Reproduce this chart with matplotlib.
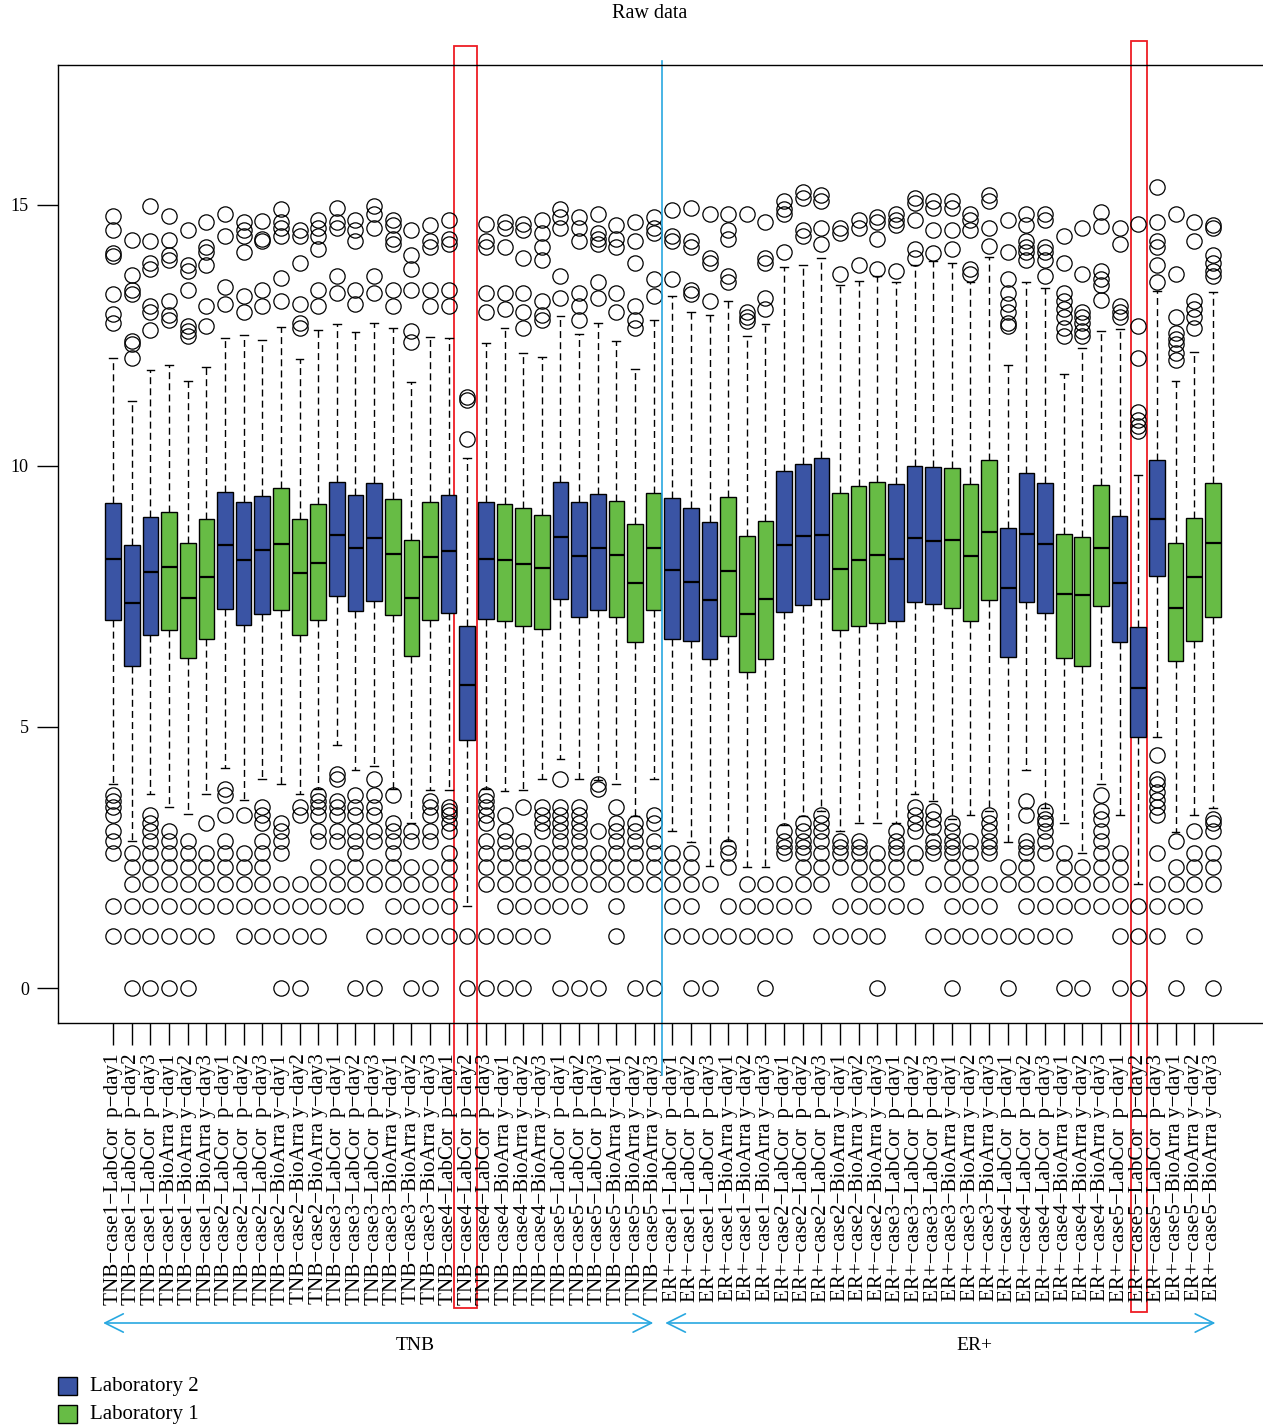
import matplotlib
matplotlib.use("Agg")
import matplotlib.pyplot as plt
from matplotlib.patches import Rectangle
from matplotlib.transforms import blended_transform_factory

plt.rcParams['font.family'] = ['Liberation Serif', 'DejaVu Serif']

# sample layout
groups = ["TNB", "ER+"]
cases = ["case1", "case2", "case3", "case4", "case5"]
samples = ["LabCor  p-day1", "LabCor  p-day2", "LabCor  p-day3",
           "BioArra y-day1", "BioArra y-day2", "BioArra y-day3"]
lab2_color = "#3a54a4"   # LabCor  -> Laboratory 2
lab1_color = "#67bc45"   # BioArra -> Laboratory 1

# box statistics (60 boxes, left to right)
med = [8.22, 7.38, 7.96, 8.07, 7.47, 7.87, 8.48, 8.19, 8.39, 8.51,
       7.94, 8.15, 8.67, 8.42, 8.62, 8.31, 7.47, 8.25, 8.38, 5.81,
       8.21, 8.19, 8.12, 8.05, 8.64, 8.28, 8.42, 8.29, 7.75, 8.42,
       8.00, 7.77, 7.44, 7.98, 7.17, 7.46, 8.48, 8.66, 8.67, 8.02,
       8.19, 8.30, 8.21, 8.62, 8.56, 8.59, 8.28, 8.73, 7.67, 8.70,
       8.50, 7.55, 7.52, 8.42, 7.76, 5.74, 8.98, 7.28, 7.88, 8.53]
q3 = [9.29, 8.48, 9.03, 9.12, 8.53, 8.99, 9.50, 9.31, 9.43, 9.57,
      8.98, 9.28, 9.70, 9.44, 9.68, 9.36, 8.58, 9.31, 9.45, 6.93,
      9.30, 9.28, 9.19, 9.06, 9.70, 9.31, 9.47, 9.32, 8.88, 9.49,
      9.39, 9.20, 8.93, 9.41, 8.65, 8.94, 9.90, 10.03, 10.15, 9.49,
      9.61, 9.69, 9.65, 10.00, 9.98, 9.97, 9.65, 10.12, 8.82, 9.87,
      9.67, 8.69, 8.63, 9.64, 9.04, 6.91, 10.12, 8.52, 9.00, 9.68]
q1 = [7.05, 6.17, 6.76, 6.86, 6.33, 6.68, 7.26, 6.95, 7.16, 7.25,
      6.77, 7.05, 7.50, 7.22, 7.42, 7.14, 6.36, 7.05, 7.18, 4.75,
      7.07, 7.03, 6.93, 6.87, 7.45, 7.10, 7.25, 7.11, 6.62, 7.25,
      6.69, 6.64, 6.30, 6.75, 6.05, 6.30, 7.21, 7.33, 7.46, 6.86,
      6.93, 6.99, 7.03, 7.40, 7.35, 7.27, 7.03, 7.43, 6.34, 7.40,
      7.19, 6.33, 6.17, 7.32, 6.62, 4.81, 7.89, 6.27, 6.65, 7.11]
whishi = [12.07, 11.24, 11.84, 11.93, 11.63, 11.89, 12.46, 12.51, 12.42, 12.66,
          12.04, 12.61, 12.71, 12.56, 12.73, 12.64, 11.60, 12.47, 12.45, 10.15,
          12.35, 12.64, 12.17, 12.09, 12.88, 12.52, 12.74, 12.40, 11.85, 12.79,
          13.26, 12.95, 12.89, 13.16, 12.49, 12.72, 13.81, 13.84, 13.99, 13.46,
          13.54, 13.63, 13.52, 13.84, 13.93, 13.89, 13.52, 14.01, 11.93, 13.52,
          13.40, 11.76, 12.25, 12.58, 12.62, 9.82, 13.35, 11.63, 12.19, 13.33]
whislo = [3.90, 2.81, 3.71, 3.46, 3.33, 3.71, 4.21, 3.60, 4.00, 3.90,
          3.71, 3.81, 4.65, 4.18, 4.25, 3.81, 3.17, 3.79, 3.79, 1.58,
          3.81, 3.78, 3.79, 4.00, 4.39, 4.00, 3.99, 3.90, 3.30, 4.00,
          3.00, 2.80, 2.33, 2.82, 2.32, 2.32, 3.13, 3.30, 3.40, 3.00,
          3.17, 3.17, 3.17, 3.71, 3.58, 3.24, 3.32, 3.40, 2.80, 4.18,
          3.45, 3.17, 2.59, 3.90, 3.32, 2.00, 4.80, 2.98, 3.32, 3.45]

# outliers above the upper whisker
out_hi = [
    [14.79, 14.51, 14.07, 14.03, 13.29, 12.92, 12.74],
    [14.32, 13.65, 13.37, 13.29, 12.40, 12.33, 12.07],
    [14.98, 14.30, 13.89, 13.78, 13.06, 12.95, 12.61],
    [14.79, 14.32, 14.04, 13.94, 13.16, 12.90, 12.80],
    [14.51, 13.84, 13.73, 13.37, 12.69, 12.59, 12.49],
    [14.67, 14.20, 14.09, 13.84, 13.06, 12.69],
    [14.82, 14.41, 13.42, 13.11],
    [14.67, 14.51, 14.41, 14.09, 13.26, 12.95],
    [14.70, 14.35, 14.30, 13.37, 13.06],
    [14.93, 14.67, 14.56, 14.41, 13.60, 13.16],
    [14.51, 14.41, 13.89, 13.11, 12.74, 12.64],
    [14.72, 14.56, 14.41, 14.15, 13.37, 13.06],
    [14.95, 14.67, 14.56, 13.63, 13.32],
    [14.72, 14.51, 14.30, 13.37, 13.11],
    [14.98, 14.82, 14.56, 13.63, 13.32],
    [14.72, 14.61, 14.35, 14.25, 13.37, 13.06],
    [14.51, 14.04, 13.78, 13.37, 12.59, 12.38],
    [14.61, 14.30, 14.20, 13.37, 13.06],
    [14.72, 14.35, 14.25, 13.37, 13.06],
    [11.32, 11.26, 10.51],
    [14.63, 14.30, 14.20, 13.32, 12.95],
    [14.67, 14.56, 14.20, 13.32, 13.00],
    [14.63, 14.51, 13.99, 13.32, 12.95, 12.64],
    [14.72, 14.46, 14.20, 13.94, 13.16, 12.90, 12.80],
    [14.93, 14.77, 14.56, 13.63, 13.21],
    [14.77, 14.56, 14.30, 13.32, 13.06, 12.80],
    [14.82, 14.46, 14.35, 14.25, 13.52, 13.21],
    [14.61, 14.35, 14.20, 13.32, 12.95],
    [14.67, 14.30, 13.89, 13.06, 12.80, 12.64],
    [14.77, 14.56, 14.46, 13.58, 13.26],
    [14.90, 14.41, 14.30, 13.58],
    [14.95, 14.30, 14.20, 13.37, 13.29],
    [14.82, 13.99, 13.89, 13.16],
    [14.82, 14.51, 14.35, 13.63, 13.52],
    [14.82, 12.95, 12.85, 12.77],
    [14.67, 13.99, 13.89, 13.21, 13.00],
    [15.08, 14.93, 14.82, 14.09],
    [15.24, 15.13, 14.51, 14.41],
    [15.19, 15.08, 14.56, 14.25],
    [14.56, 14.46, 13.68],
    [14.72, 14.56, 13.84],
    [14.77, 14.67, 14.35, 13.78],
    [14.82, 14.72, 14.61, 13.73],
    [15.13, 15.03, 14.72, 14.15, 13.99],
    [15.08, 14.95, 14.51, 14.07],
    [15.08, 14.95, 14.51, 14.15],
    [14.82, 14.72, 14.51, 13.78, 13.68],
    [15.19, 15.08, 14.56, 14.22],
    [14.72, 14.09, 13.58, 13.32, 13.11, 12.95, 12.74, 12.69],
    [14.82, 14.61, 14.30, 14.20, 14.09, 13.94],
    [14.82, 14.72, 14.20, 14.09, 13.94, 13.63],
    [14.41, 13.89, 13.32, 13.16, 13.00, 12.85, 12.64, 12.49],
    [14.56, 13.68, 12.95, 12.85, 12.74, 12.59, 12.49],
    [14.87, 14.59, 13.73, 13.58, 13.47, 13.18],
    [14.56, 14.25, 13.06, 12.95, 12.85],
    [14.63, 12.69, 12.07, 11.03, 10.88, 10.77, 10.67],
    [15.34, 14.67, 14.30, 14.20, 13.84, 13.52],
    [14.82, 13.68, 12.85, 12.54, 12.43, 12.33, 12.17, 12.02],
    [14.67, 14.30, 13.16, 13.00, 12.85, 12.64],
    [14.61, 14.56, 14.04, 13.89, 13.73, 13.63],
]

# outliers below the lower whisker (they sit on log2 of small counts)
out_lo = [
    [3.70, 3.58, 3.46, 3.32, 3.00, 2.81, 2.58, 1.58, 1.00],
    [2.58, 2.32, 2.00, 1.58, 1.00, 0.00],
    [3.32, 3.17, 3.00, 2.81, 2.58, 2.32, 2.00, 1.58, 1.00, 0.00],
    [3.00, 2.81, 2.58, 2.32, 2.00, 1.58, 1.00, 0.00],
    [2.81, 2.58, 2.32, 2.00, 1.58, 1.00, 0.00],
    [3.17, 2.58, 2.32, 2.00, 1.58, 1.00],
    [3.81, 3.70, 3.32, 2.81, 2.58, 2.32, 2.00, 1.58],
    [3.32, 2.58, 2.32, 2.00, 1.58, 1.00],
    [3.46, 3.32, 3.17, 2.81, 2.58, 2.32, 2.00, 1.58, 1.00],
    [3.17, 3.00, 2.81, 2.58, 2.00, 1.58, 1.00, 0.00],
    [3.46, 3.32, 2.00, 1.58, 1.00, 0.00],
    [3.70, 3.58, 3.46, 3.32, 3.00, 2.81, 2.32, 2.00, 1.58, 1.00],
    [4.09, 4.00, 3.58, 3.46, 3.32, 3.00, 2.81, 2.32, 2.00, 1.58],
    [3.70, 3.46, 3.32, 3.00, 2.81, 2.58, 2.32, 2.00, 1.58, 0.00],
    [4.00, 3.70, 3.46, 3.32, 3.00, 2.81, 2.32, 2.00, 1.00, 0.00],
    [3.70, 3.17, 3.00, 2.81, 2.58, 2.32, 2.00, 1.58, 1.00],
    [3.00, 2.81, 2.32, 2.00, 1.58, 1.00, 0.00],
    [3.58, 3.46, 3.32, 3.00, 2.81, 2.32, 2.00, 1.58, 1.00, 0.00],
    [3.46, 3.40, 3.32, 3.17, 3.00, 2.58, 2.32, 2.00, 1.58, 1.00],
    [1.00, 0.00],
    [3.70, 3.58, 3.46, 3.32, 3.17, 2.81, 2.58, 2.32, 2.00, 1.00, 0.00],
    [3.32, 3.00, 2.81, 2.58, 2.32, 2.00, 1.58, 1.00, 0.00],
    [3.46, 2.81, 2.58, 2.32, 2.00, 1.58, 1.00, 0.00],
    [3.46, 3.32, 3.17, 3.00, 2.58, 2.32, 2.00, 1.58, 1.00],
    [4.00, 3.46, 3.32, 3.17, 3.00, 2.81, 2.58, 2.32, 2.00, 1.58, 0.00],
    [3.46, 3.32, 3.17, 3.00, 2.81, 2.58, 2.32, 2.00, 1.58, 0.00],
    [3.91, 3.81, 3.00, 2.58, 2.32, 2.00, 0.00],
    [3.46, 3.17, 3.00, 2.81, 2.58, 2.32, 2.00, 1.58, 1.00],
    [3.17, 3.00, 2.81, 2.58, 2.32, 2.00, 0.00],
    [3.32, 3.17, 2.81, 2.58, 2.32, 2.00, 0.00],
    [2.58, 2.32, 2.00, 1.58, 1.00],
    [2.58, 2.32, 2.00, 1.58, 1.00, 0.00],
    [2.00, 1.00, 0.00],
    [2.70, 2.58, 2.32, 1.58, 1.00],
    [2.00, 1.58, 1.00],
    [2.00, 1.58, 1.00, 0.00],
    [3.00, 2.81, 2.70, 2.58, 2.00, 1.58, 1.00],
    [3.17, 3.00, 2.81, 2.70, 2.58, 2.32, 2.00, 1.58],
    [3.32, 3.17, 3.00, 2.81, 2.58, 2.32, 2.00, 1.00],
    [2.81, 2.70, 2.58, 2.32, 1.58, 1.00],
    [2.81, 2.70, 2.58, 2.32, 2.00, 1.58, 1.00],
    [2.58, 2.32, 2.00, 1.58, 1.00, 0.00],
    [3.00, 2.81, 2.70, 2.58, 2.32, 2.00, 1.58],
    [3.46, 3.32, 3.17, 3.00, 2.58, 2.32, 1.58],
    [3.40, 3.24, 3.09, 2.81, 2.70, 2.58, 2.00, 1.00],
    [3.17, 3.00, 2.81, 2.70, 2.58, 2.32, 2.00, 1.58, 1.00, 0.00],
    [2.81, 2.58, 2.32, 2.00, 1.58, 1.00],
    [3.32, 3.17, 3.00, 2.81, 2.70, 2.58, 2.00, 1.58, 1.00],
    [2.32, 2.00, 1.00, 0.00],
    [3.58, 3.32, 2.81, 2.70, 2.58, 2.32, 2.00, 1.58, 1.00],
    [3.40, 3.24, 3.17, 3.00, 2.81, 2.58, 2.00, 1.58, 1.00],
    [2.58, 2.32, 2.00, 1.58, 1.00, 0.00],
    [2.32, 2.00, 1.58, 0.00],
    [3.70, 3.40, 3.24, 3.00, 2.81, 2.58, 2.32, 2.00, 1.58],
    [2.58, 2.32, 2.00, 1.58, 1.00, 0.00],
    [1.58, 1.00, 0.00],
    [4.46, 4.00, 3.91, 3.76, 3.60, 3.46, 3.32, 2.58, 2.00, 1.58, 1.00],
    [2.81, 2.32, 2.00, 1.58, 0.00],
    [3.00, 2.58, 2.32, 2.00, 1.58, 1.00],
    [3.24, 3.17, 3.00, 2.58, 2.32, 2.00, 0.00],
]

labels = []
colors = []
for g in groups:
    for c in cases:
        for s in samples:
            labels.append((g + "-" + c + "-" + s).replace("-", "\u2212"))
            colors.append(lab2_color if s.startswith("LabCor") else lab1_color)

W, H = 1263, 1425
fig = plt.figure(figsize=(W / 100, H / 100), dpi=100)
ax = fig.add_axes([58 / W, 1 - 1023 / H, 1.002 - 58 / W, (1023 - 65) / H])

stats = []
for i in range(len(med)):
    stats.append(dict(med=med[i], q1=q1[i], q3=q3[i], whislo=whislo[i],
                      whishi=whishi[i], fliers=out_hi[i] + out_lo[i]))

pos = list(range(1, len(stats) + 1))
bp = ax.bxp(stats, positions=pos, widths=0.84, capwidths=0.42, patch_artist=True,
            boxprops=dict(edgecolor="black", linewidth=1.0),
            medianprops=dict(color="black", linewidth=1.6),
            whiskerprops=dict(color="black", linewidth=1.0, linestyle=(0, (5, 3))),
            capprops=dict(color="black", linewidth=1.0),
            flierprops=dict(marker="o", markerfacecolor="none", markeredgecolor="black",
                            markersize=11, markeredgewidth=0.9, linestyle="none"))
for patch, col in zip(bp["boxes"], colors):
    patch.set_facecolor(col)

ax.set_xlim(-1.96, 62.83)
ax.set_ylim(-0.67, 17.68)
ax.set_yticks([0, 5, 10, 15])
ax.set_xticks(pos)
ax.set_xticklabels(labels, rotation=90, ha="center", va="top", fontsize=15.2)
ax.tick_params(axis="y", direction="out", length=15, width=1, labelsize=13, pad=6)
ax.tick_params(axis="x", direction="out", length=16, width=1, pad=6)
for sp in ax.spines.values():
    sp.set_linewidth(1.0)

# annotations: x in data units, y in figure pixels
trans = blended_transform_factory(ax.transData, fig.transFigure)
fy = lambda y: 1 - y / H

ax.plot([30.45, 30.45], [fy(61), fy(1075)], color="#29a8e0", lw=1.2,
        transform=trans, clip_on=False)
for x0, x1, y0, y1 in [(19.28, 20.52, 46, 1308), (55.62, 56.48, 41, 1312)]:
    ax.add_patch(Rectangle((x0, fy(y1)), x1 - x0, (y1 - y0) / H, fill=False,
                           edgecolor="#ee1c24", lw=1.3, transform=trans, clip_on=False))

for x0, x1, name, xt in [(0.46, 29.98, "TNB", 17.2), (30.62, 60.14, "ER+", 47.2)]:
    ax.annotate("", xy=(x1, fy(1323)), xytext=(x0, fy(1323)), xycoords=trans,
                textcoords=trans, annotation_clip=False,
                arrowprops=dict(arrowstyle="<->,head_length=0.6,head_width=0.3",
                                color="#29a8e0", lw=1.2, shrinkA=0, shrinkB=0,
                                mutation_scale=22))
    ax.text(xt, fy(1345), name, transform=trans, ha="center", va="center", fontsize=14)

fig.text(650 / W, fy(14), "Raw data", ha="center", va="center", fontsize=14.5)

# legend
for y, col, txt in [(1377, lab2_color, "Laboratory 2"), (1405, lab1_color, "Laboratory 1")]:
    fig.patches.append(Rectangle((58 / W, fy(y + 18)), 19 / W, 18 / H, facecolor=col,
                                 edgecolor="black", lw=1.0, transform=fig.transFigure))
    fig.text(90 / W, fy(y + 9), txt, ha="left", va="center", fontsize=15)

fig.savefig("out.png", dpi=100)
